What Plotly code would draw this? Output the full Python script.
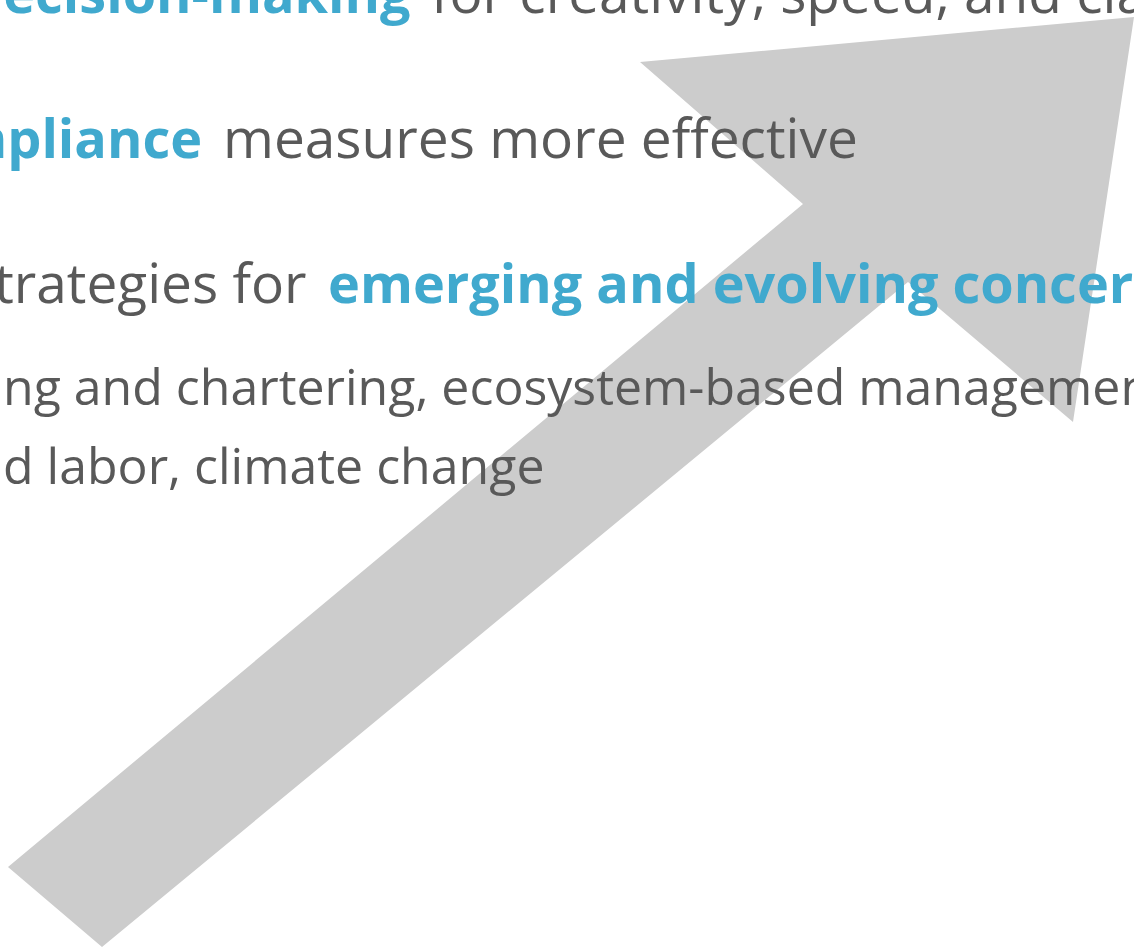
import plotly.graph_objects as go

# Arrow outline (pixel space of the slide crop, y grows downward)
arrow_x = [8, 803, 640, 1134, 1073, 908, 102, 8]
arrow_y = [867, 204, 62, 17, 422, 282, 947, 867]

# Text segments
seg_text = [
    "decision-making", "for creativity, speed, and clarity",
    "compliance", "measures more effective",
    "strategies for", "emerging and evolving concerns",
    "ng and chartering, ecosystem-based management",
    "d labor, climate change",
]
seg_x = [412, 430, 203, 222, 308, 327, 2, 2]
seg_base = [15, 15, 160, 160, 305, 305, 408, 486]
seg_anchor = ["right", "left", "right", "left", "right", "left", "left", "left"]
seg_bold = [True, False, True, False, False, True, False, False]
seg_size = [54, 55, 54, 55, 55, 54, 50, 50]

GRAY = "#595959"
BLUE = "#40A9CE"
FONT = "Open Sans"
W, H = 1134, 952

fig = go.Figure()
fig.add_trace(go.Scatter(
    x=arrow_x, y=arrow_y, mode="lines", fill="toself",
    fillcolor="#CCCCCC", line=dict(color="#CCCCCC", width=0),
    hoverinfo="skip", showlegend=False,
))

for t, x, b, a, bold, s in zip(seg_text, seg_x, seg_base, seg_anchor, seg_bold, seg_size):
    fig.add_annotation(
        x=x, y=b + 0.27 * s, xref="x", yref="y",
        text=f"<b>{t}</b>" if bold else t,
        showarrow=False, xanchor=a, yanchor="bottom",
        font=dict(family=FONT, size=s, color=BLUE if bold else GRAY),
        borderpad=0,
    )

fig.update_layout(
    width=W, height=H,
    margin=dict(l=0, r=0, t=0, b=0),
    paper_bgcolor="white", plot_bgcolor="white",
    xaxis=dict(range=[0, W], visible=False, fixedrange=True),
    yaxis=dict(range=[H, 0], visible=False, fixedrange=True),
    showlegend=False,
)
fig.write_html(
    "out.html",
    config={"displayModeBar": False},
    post_script="document.body.style.margin='0';document.body.style.overflow='hidden';",
)
